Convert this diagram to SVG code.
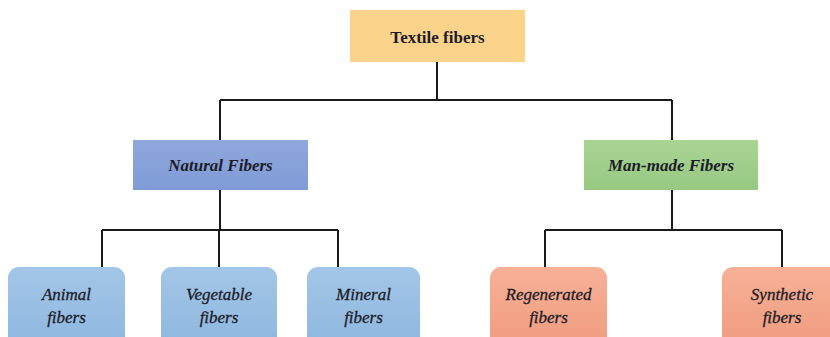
<svg xmlns="http://www.w3.org/2000/svg" width="830" height="337" viewBox="0 0 830 337">
<style>
text{font-family:"Liberation Serif","Times New Roman",serif;font-size:17px;fill:#1c1c28;text-anchor:middle;font-weight:bold}
.it{font-style:italic}
.lf{font-weight:normal;font-style:italic;font-size:17px;stroke:#1c1c28;stroke-width:0.3}
.ln{stroke:#1a1a1a;stroke-width:2;fill:none}
</style>
<defs>
<linearGradient id="gb" x1="0" y1="0" x2="0" y2="1"><stop offset="0" stop-color="#a3c6e8"/><stop offset="1" stop-color="#8db6de"/></linearGradient>
<linearGradient id="go" x1="0" y1="0" x2="0" y2="1"><stop offset="0" stop-color="#f6b197"/><stop offset="1" stop-color="#f09a7c"/></linearGradient>
<linearGradient id="gn" x1="0" y1="0" x2="0" y2="1"><stop offset="0" stop-color="#8fa8dc"/><stop offset="1" stop-color="#7f9bd6"/></linearGradient>
<linearGradient id="gg" x1="0" y1="0" x2="0" y2="1"><stop offset="0" stop-color="#a9d494"/><stop offset="1" stop-color="#97c982"/></linearGradient>
</defs>
<g id="connectors">
<path class="ln" d="M437 62V100M220 100H672M220 100V140M672 100V140"/>
<path class="ln" d="M220 190V230M102 230H338M102 230V267M219 230V267M338 230V267"/>
<path class="ln" d="M672 190V230M545 230H782M545 230V267M782 230V267"/>
</g>
<g id="textile"><rect x="350" y="10" width="175" height="52" fill="#fcd38b"/><text x="437.5" y="43">Textile fibers</text></g>
<g id="natural"><rect x="133" y="140" width="175" height="50" fill="url(#gn)"/><text class="it" x="220.5" y="171">Natural Fibers</text></g>
<g id="manmade"><rect x="584" y="140" width="174" height="50" fill="url(#gg)"/><text class="it" x="671" y="171">Man-made Fibers</text></g>
<g id="animal"><rect x="8" y="267" width="117" height="85" rx="11" fill="url(#gb)"/><text class="lf" x="66.5" y="300">Animal</text><text class="lf" x="66.5" y="323">fibers</text></g>
<g id="vegetable"><rect x="161" y="267" width="116" height="85" rx="11" fill="url(#gb)"/><text class="lf" x="219" y="300">Vegetable</text><text class="lf" x="219" y="323">fibers</text></g>
<g id="mineral"><rect x="307" y="267" width="113" height="85" rx="11" fill="url(#gb)"/><text class="lf" x="363.5" y="300">Mineral</text><text class="lf" x="363.5" y="323">fibers</text></g>
<g id="regenerated"><rect x="490" y="267" width="117" height="85" rx="11" fill="url(#go)"/><text class="lf" x="548.5" y="300">Regenerated</text><text class="lf" x="548.5" y="323">fibers</text></g>
<g id="synthetic"><rect x="722" y="267" width="118" height="85" rx="11" fill="url(#go)"/><text class="lf" x="782" y="300">Synthetic</text><text class="lf" x="782" y="323">fibers</text></g>
</svg>
